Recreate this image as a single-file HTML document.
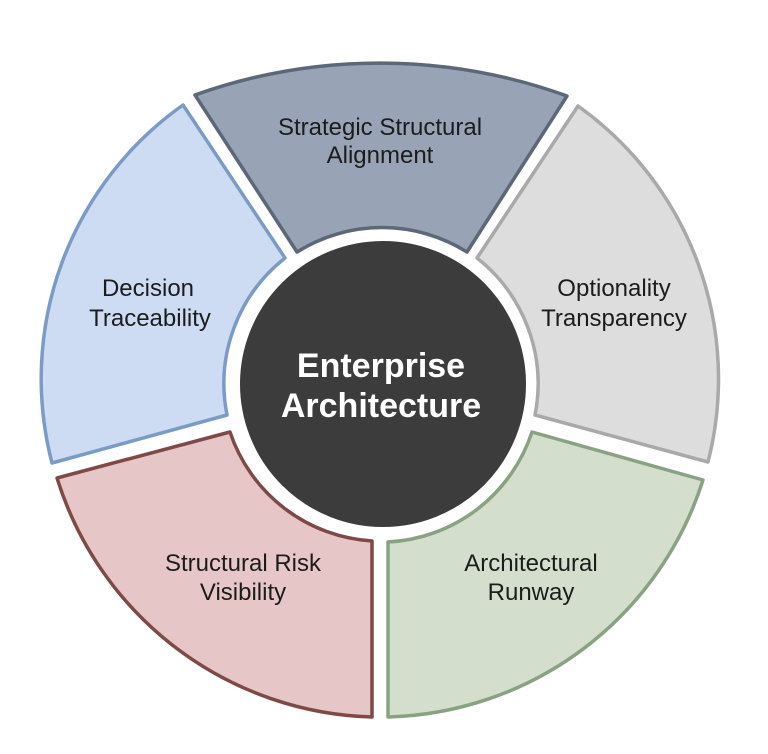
<!DOCTYPE html>
<html><head><meta charset="utf-8"><style>
html,body{margin:0;padding:0;background:#fff;}
svg{display:block;}
text{font-family:"Liberation Sans",Arial,sans-serif;}
</style></head><body>
<svg width="768" height="754" viewBox="0 0 768 754" xmlns="http://www.w3.org/2000/svg">
<rect width="768" height="754" fill="#fff"/>
<g stroke-width="3.5" stroke-linejoin="round">
<path d="M195,95 A550,550 0 0 1 567,96 L467,252 A160,160 0 0 0 297,252 Z" fill="#98a4b6" stroke="#5c6878"/>
<path d="M578,106 A335,335 0 0 1 708,462 L535,415 A160,160 0 0 0 477,258 Z" fill="#dddddd" stroke="#a9a9a9"/>
<path d="M703,480 A340,340 0 0 1 388,717 L388,542 A160,160 0 0 0 532,432 Z" fill="#d3dfcc" stroke="#88a283"/>
<path d="M372,717 A340,340 0 0 1 57,478 L230,432 A160,160 0 0 0 372,541 Z" fill="#e6c6c6" stroke="#7e4a46"/>
<path d="M52,463 A335,335 0 0 1 183,105 L285,258 A160,160 0 0 0 227,415 Z" fill="#cddcf3" stroke="#7b9bc7"/>
</g>
<circle cx="383" cy="384" r="145" fill="#3c3c3c" stroke="#fff" stroke-width="4"/>
<g font-size="24" fill="#1c1c1c" text-anchor="middle">
<text x="380" y="135">Strategic Structural</text>
<text x="380" y="163">Alignment</text>
<text x="148" y="296">Decision</text>
<text x="150" y="326">Traceability</text>
<text x="614" y="296">Optionality</text>
<text x="614" y="326">Transparency</text>
<text x="243" y="571">Structural Risk</text>
<text x="243" y="600">Visibility</text>
<text x="531" y="571">Architectural</text>
<text x="531" y="600">Runway</text>
</g>
<g font-size="34" font-weight="bold" fill="#fff" text-anchor="middle">
<text x="381" y="377">Enterprise</text>
<text x="381" y="417">Architecture</text>
</g>
</svg>
</body></html>
